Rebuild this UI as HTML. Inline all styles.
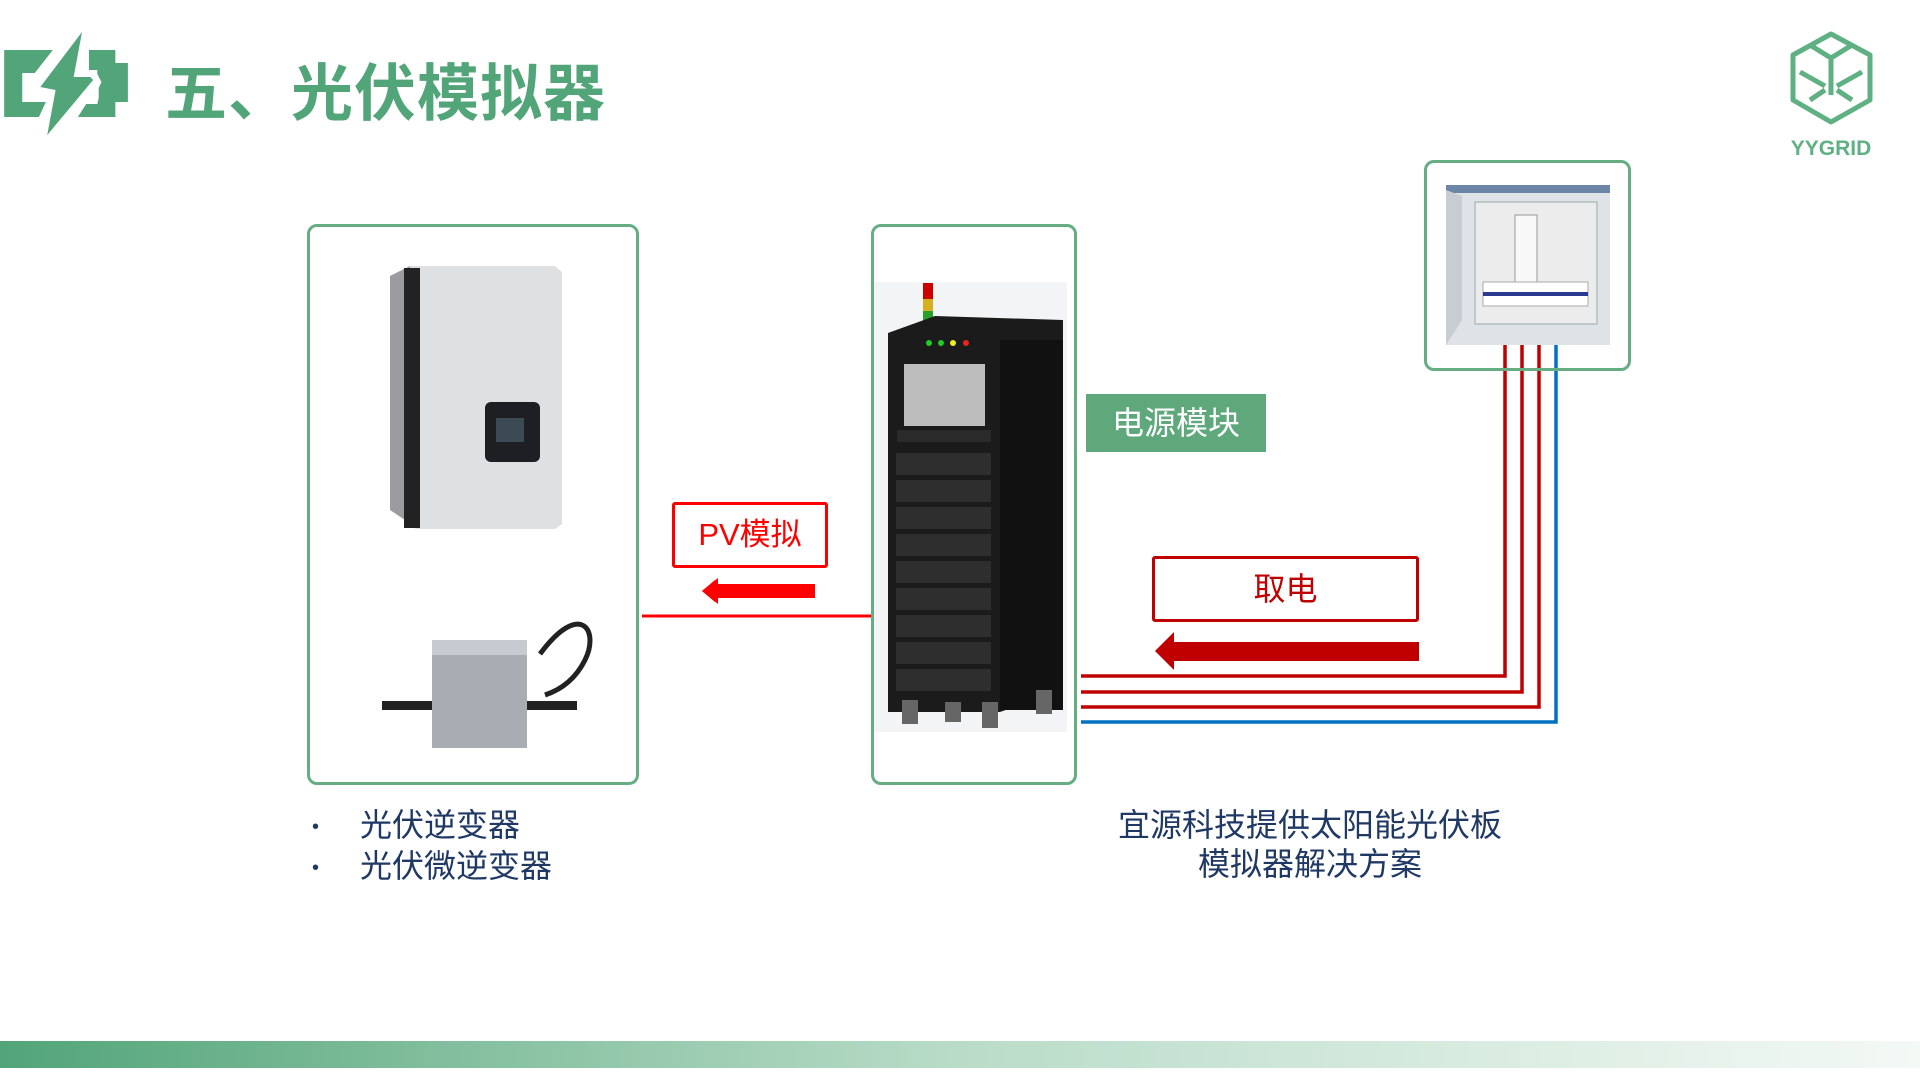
<!DOCTYPE html>
<html><head><meta charset="utf-8"><style>
body{margin:0;width:1920px;height:1080px;background:#fff;position:relative;overflow:hidden;font-family:"Liberation Sans","Noto Sans CJK SC",sans-serif}
.a{position:absolute}
.box{position:absolute;border:3px solid #66ad84;border-radius:10px;box-sizing:border-box}
</style></head><body>
<svg class="a" style="left:0;top:0" width="1920" height="1080">
<defs><linearGradient id="g" x1="0" x2="1"><stop offset="0" stop-color="#52a578"/><stop offset="0.5" stop-color="#b9dcc8"/><stop offset="1" stop-color="#f4f9f6"/></linearGradient></defs>
<!-- title icon -->
<g transform="scale(1.39,1)">
<path d="M3,50 H38 L25,73 H16 V102 H33 L28,117 H3 Z" fill="#52a578"/>
<path d="M64,50 H83 V63 H92 V102 H83 V117 H56 L62,104 H70 L71,98 V88 L73,82 L70,74 V70 H64 Z" fill="#52a578"/>
<path d="M59,32 L29,87 L40,90 L34,135 L67,80 L65,77 H53 Z" fill="#52a578"/>
</g>
<!-- logo -->
<g fill="none" stroke="#5fb083" stroke-width="5" stroke-linejoin="round">
<path d="M1831,34 L1793,55 V100 L1831,122 L1870,100 V55 Z"/>
<path d="M1810,45 L1831,58 L1852,45 M1831,58 V95 M1800,72 L1825,86 M1862,72 L1837,86 M1810,100 L1825,90 M1852,100 L1837,90"/>
</g>
<text x="1831" y="155" text-anchor="middle" font-family="Liberation Sans" font-size="21" fill="#5fb083" font-weight="bold">YYGRID</text>
<!-- red PV line -->
<line x1="642" y1="616" x2="871" y2="616" stroke="#ff0000" stroke-width="3"/>
<path d="M702,591 L715,580 V584 H815 V598 H715 V602 Z" fill="#ff0000"/>
<path d="M702,591 L718,578 L718,604 Z" fill="#ff0000"/>
<!-- dark red arrow -->
<rect x="1170" y="642" width="249" height="19" fill="#c00000"/>
<path d="M1155,651 L1174,632 V670 Z" fill="#c00000"/>
<!-- cables -->
<g fill="none" stroke-width="3.5">
<path d="M1081,676 H1505 V335" stroke="#c00000"/>
<path d="M1081,692 H1522 V335" stroke="#c00000"/>
<path d="M1081,707 H1539 V335" stroke="#c00000"/>
<path d="M1081,722 H1556 V335" stroke="#0070c0"/>
</g>
<!-- inverter -->
<path d="M390,276 L410,266 H555 L562,272 V524 L555,529 H416 L405,520 L390,510 Z" fill="#dfe0e1"/>
<path d="M390,276 L410,266 V528 L405,520 L390,510 Z" fill="#9a9ca0"/>
<rect x="404" y="268" width="16" height="260" fill="#222"/>
<rect x="485" y="402" width="55" height="60" rx="6" fill="#1e1f22"/>
<rect x="496" y="418" width="28" height="24" fill="#3b4a55"/>
<!-- micro inverter -->
<path d="M540,654 C580,600 600,630 585,660 C575,680 560,690 545,695" fill="none" stroke="#222" stroke-width="5"/>
<rect x="432" y="640" width="95" height="108" fill="#a9acb2"/>
<rect x="432" y="640" width="95" height="15" fill="#c7cad0"/>
<rect x="382" y="701" width="50" height="9" fill="#222"/>
<rect x="527" y="701" width="50" height="9" fill="#222"/>
<!-- cabinet -->
<rect x="872" y="282" width="195" height="450" fill="#f3f4f6"/>
<rect x="923" y="283" width="10" height="16" fill="#c00"/>
<rect x="923" y="299" width="10" height="12" fill="#d6b020"/>
<rect x="923" y="311" width="10" height="14" fill="#2aa02a"/>
<path d="M888,333 L935,316 L1063,320 V690 L1000,712 H888 Z" fill="#1b1b1b"/>
<rect x="1000" y="340" width="63" height="370" fill="#111"/>
<rect x="904" y="364" width="81" height="62" fill="#bdbdbd"/>
<rect x="897" y="430" width="94" height="12" fill="#2a2a2a"/>
<g fill="#2e2e2e"><rect x="896" y="453" width="95" height="22"/><rect x="896" y="480" width="95" height="22"/><rect x="896" y="507" width="95" height="22"/><rect x="896" y="534" width="95" height="22"/><rect x="896" y="561" width="95" height="22"/><rect x="896" y="588" width="95" height="22"/><rect x="896" y="615" width="95" height="22"/><rect x="896" y="642" width="95" height="22"/><rect x="896" y="669" width="95" height="22"/></g>
<circle cx="929" cy="343" r="3" fill="#2c2"/><circle cx="941" cy="343" r="3" fill="#2c2"/><circle cx="953" cy="343" r="3" fill="#ee2"/><circle cx="966" cy="343" r="3" fill="#e22"/>
<g fill="#666"><rect x="902" y="700" width="16" height="24"/><rect x="945" y="702" width="16" height="20"/><rect x="982" y="702" width="16" height="26"/><rect x="1036" y="690" width="16" height="24"/></g>
<!-- distribution box -->
<rect x="1446" y="185" width="164" height="160" fill="#dfe3e8"/>
<rect x="1446" y="185" width="164" height="8" fill="#6b86a6"/>
<path d="M1446,190 L1462,196 V320 L1446,345 Z" fill="#c8cdd3"/>
<rect x="1475" y="202" width="122" height="122" fill="#ececec" stroke="#9aa" />
<rect x="1515" y="215" width="22" height="68" fill="#f8f8f8" stroke="#999"/>
<rect x="1483" y="282" width="105" height="24" fill="#fff" stroke="#aaa"/>
<rect x="1483" y="292" width="105" height="4" fill="#2a3a90"/>
<!-- bottom bar -->
<rect x="0" y="1041" width="1920" height="27" fill="url(#g)"/>
</svg>
<div class="a" style="left:165px;top:48px;font-size:62px;font-weight:bold;color:#52a578;letter-spacing:1px;font-family:'Noto Sans CJK SC',sans-serif;line-height:80px">五、光伏模拟器</div>
<div class="box" style="left:307px;top:224px;width:332px;height:561px"></div>
<div class="box" style="left:871px;top:224px;width:206px;height:561px"></div>
<div class="box" style="left:1424px;top:160px;width:207px;height:211px"></div>
<div class="a" style="left:1086px;top:394px;width:180px;height:58px;background:#5fa87c;color:#fff;font-size:32px;line-height:58px;text-align:center">电源模块</div>
<div class="a" style="left:672px;top:502px;width:156px;height:66px;border:3px solid #ff0000;box-sizing:border-box;border-radius:3px;color:#ff0000;font-size:31px;line-height:60px;text-align:center">PV模拟</div>
<div class="a" style="left:1152px;top:556px;width:267px;height:66px;border:3px solid #c00000;box-sizing:border-box;border-radius:3px;color:#c00000;font-size:32px;line-height:60px;text-align:center">取电</div>
<div class="a" style="left:312px;top:806px;font-size:32px;line-height:39px;color:#1f3864">
<div><span style="display:inline-block;width:48px;font-size:20px;vertical-align:middle">•</span>光伏逆变器</div>
<div><span style="display:inline-block;width:48px;font-size:20px;vertical-align:middle">•</span>光伏微逆变器</div>
</div>
<div class="a" style="left:1060px;top:806px;width:500px;text-align:center;font-size:32px;line-height:39px;color:#1f3864">宜源科技提供太阳能光伏板<br>模拟器解决方案</div>
</body></html>
